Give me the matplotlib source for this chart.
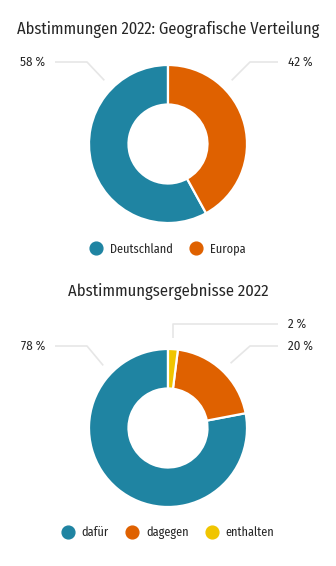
import matplotlib
matplotlib.use("Agg")
import matplotlib.pyplot as plt
from matplotlib.lines import Line2D
import numpy as np

plt.rcParams['font.family'] = ['Fira Sans Condensed', 'DejaVu Sans']

# ---- data ----
title1 = "Abstimmungen 2022: Geografische Verteilung"
cats1 = ["Deutschland", "Europa"]
vals1 = [58, 42]
title2 = "Abstimmungsergebnisse 2022"
cats2 = ["dafür", "dagegen", "enthalten"]
vals2 = [78, 20, 2]

TEAL = "#1f84a2"
ORANGE = "#df6100"
YELLOW = "#f0c500"
colors1 = [TEAL, ORANGE]
colors2 = [TEAL, ORANGE, YELLOW]
GREY = "#e6e6e6"
TXT = "#262626"

W, H = 336, 566
fig = plt.figure(figsize=(W / 100, H / 100), dpi=100)
ax = fig.add_axes([0, 0, 1, 1])
ax.set_xlim(0, W)
ax.set_ylim(0, H)
ax.axis('off')

R = 79


def py(y):
    return H - y


def fit(t, target):
    fig.canvas.draw()
    r = fig.canvas.get_renderer()
    w = t.get_window_extent(r).width
    t.set_fontsize(t.get_fontsize() * target / w)


def donut(center, vals, colors):
    ax.pie(vals, colors=colors, startangle=90, counterclock=True, radius=R,
           center=center, wedgeprops=dict(width=R * 0.5, edgecolor='white', linewidth=1.6))


c1 = (168, py(144))
c2 = (168, py(428))
donut(c1, vals1, colors1)
donut(c2, vals2, colors2)
ax.set_xlim(0, W)
ax.set_ylim(0, H)
ax.set_aspect('auto')

t1 = ax.text(168, py(30), title1, ha='center', va='center', fontsize=12, color=TXT)
fit(t1, 304)
t2 = ax.text(168, py(292), title2, ha='center', va='center', fontsize=12, color=TXT)
fit(t2, 201)


def label(center, txt, side, ylab, ang, vertical=False):
    cx, cy = center
    ex = cx + R * 1.14 * np.cos(np.radians(ang))
    ey = cy + R * 1.14 * np.sin(np.radians(ang))
    yl = py(ylab)
    if side == 'left':
        tx = 45
        t = ax.text(tx, yl, txt, ha='right', va='center', fontsize=9, color=TXT)
        xs = [55, 87, ex]
        ys = [yl, yl, ey]
    else:
        tx = 288
        t = ax.text(tx, yl, txt, ha='left', va='center', fontsize=9, color=TXT)
        if vertical:
            xs = [278, ex, ex]
            ys = [yl, yl, ey]
        else:
            xs = [278, 250, ex]
            ys = [yl, yl, ey]
    ax.plot(xs, ys, color=GREY, lw=1.2, solid_capstyle='butt')
    return t


l1 = label(c1, f"{vals1[0]} %", 'left', 62, 135)
fit(l1, 25)
fs_lab = l1.get_fontsize()
label(c1, f"{vals1[1]} %", 'right', 62, 45).set_fontsize(fs_lab)
label(c2, f"{vals2[0]} %", 'left', 346, 136).set_fontsize(fs_lab)
label(c2, f"{vals2[1]} %", 'right', 346, 46).set_fontsize(fs_lab)
label(c2, f"{vals2[2]} %", 'right', 324, 87, vertical=True).set_fontsize(fs_lab)

# legends
tmp = ax.text(0, 0, cats1[0], fontsize=10)
fit(tmp, 63)
fs_leg = tmp.get_fontsize()
tmp.remove()
fs_px = fs_leg * 100 / 72


def make_legend(cats, colors, ypix):
    handles = [Line2D([], [], marker='o', ls='none', markersize=9.2,
                      markerfacecolor=c, markeredgecolor=c) for c in colors]
    leg = ax.legend(handles, cats, loc='center', bbox_to_anchor=(168 / W, 1 - ypix / H),
                    bbox_transform=fig.transFigure, ncol=len(cats), frameon=False,
                    fontsize=fs_leg, handlelength=1.0, handletextpad=14 / fs_px - 0.5,
                    columnspacing=23 / fs_px - 0.5, labelcolor=TXT,
                    borderaxespad=0, borderpad=0)
    return leg


leg1 = make_legend(cats1, colors1, 249)
ax.add_artist(leg1)
leg2 = make_legend(cats2, colors2, 533)

fig.savefig("out.png", dpi=100)
